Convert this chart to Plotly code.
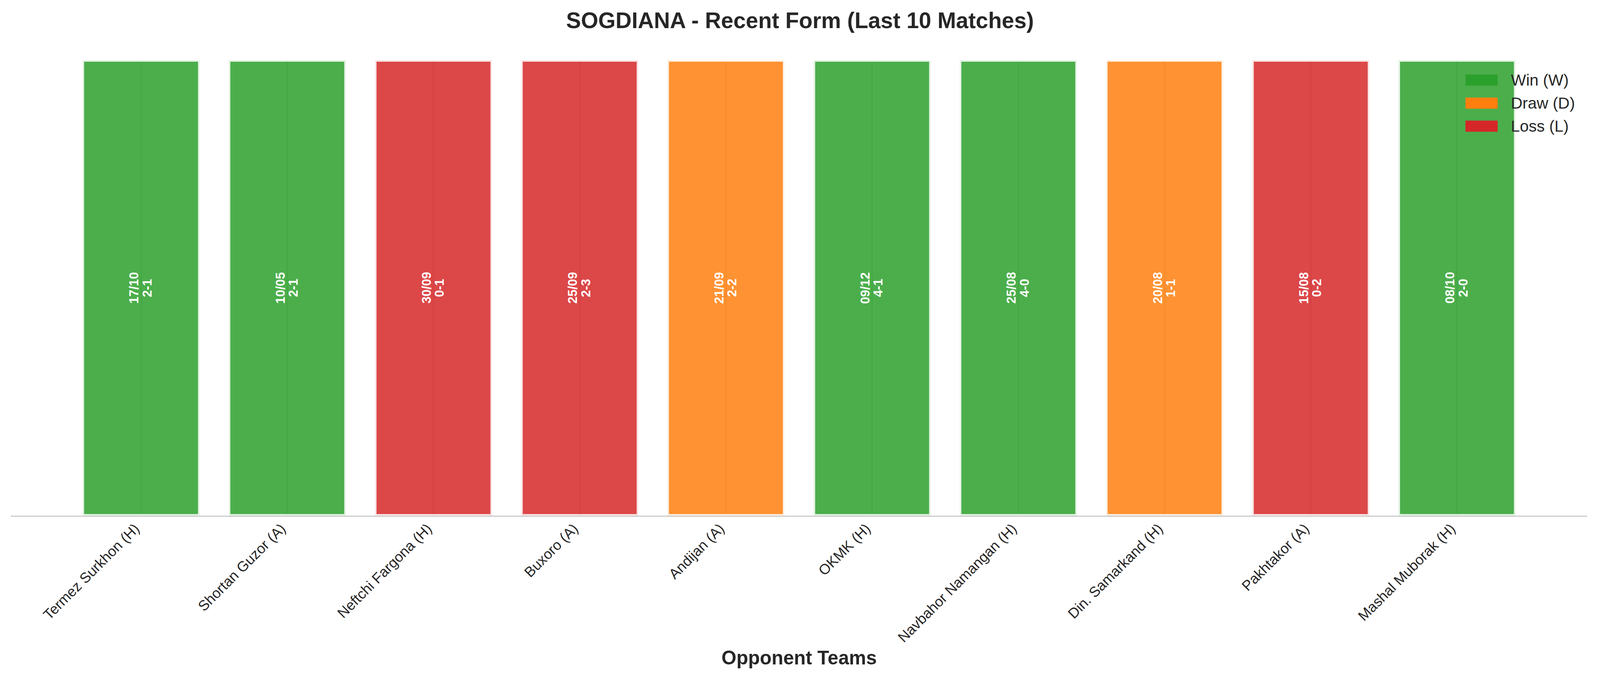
import plotly.graph_objects as go

# recent form data, most recent first
teams = ["Termez Surkhon (H)", "Shortan Guzor (A)", "Neftchi Fargona (H)", "Buxoro (A)",
         "Andijan (A)", "OKMK (H)", "Navbahor Namangan (H)", "Din. Samarkand (H)",
         "Pakhtakor (A)", "Mashal Muborak (H)"]
results = ["W", "W", "L", "L", "D", "W", "W", "D", "L", "W"]
dates = ["17/10", "10/05", "30/09", "25/09", "21/09", "09/12", "25/08", "20/08", "15/08", "08/10"]
scores = ["2-1", "2-1", "0-1", "2-3", "2-2", "4-1", "4-0", "1-1", "0-2", "2-0"]
bar_height = [1] * len(teams)

legend_keys = ["W", "D", "L"]
legend_labels = ["Win (W)", "Draw (D)", "Loss (L)"]

colors = {"W": "44,160,44", "D": "255,127,14", "L": "214,39,40"}

FONT = "Liberation Sans, Arial, sans-serif"

# the page is shot at ~4096 px wide and stretched to 4170, body has 8px margin
S = 4096 / 4170
OFF = 8


def p(v):
    # picture px -> figure px
    return v * S - OFF


def z(v):
    # size in picture px -> figure px
    return v * S


W, H = 4080, 1720
L, R, T, B = p(29), p(4136), p(157), p(1344)


def px_x(x):
    return (p(x) - L) / (R - L)


def px_y(y):
    return (B - p(y)) / (B - T)


fig = go.Figure()
fig.add_trace(go.Bar(
    x=teams, y=bar_height, width=0.8,
    marker=dict(color=["rgba(%s,0.85)" % colors[r] for r in results],
                line=dict(color="rgba(255,255,255,0.85)", width=z(8))),
    showlegend=False, hoverinfo="skip",
))

annotations = []
for t, d, s in zip(teams, dates, scores):
    for txt, shift in ((d, -18), (s, 16)):
        annotations.append(dict(
            x=t, y=0.5, xref="x", yref="y", text=txt, showarrow=False,
            textangle=-90, xshift=z(shift), xanchor="center", yanchor="middle",
            font=dict(family=FONT, size=z(33), color="white", weight="bold"),
        ))

# legend drawn by hand so patches get matplotlib-like size
shapes = []
row_y = [209, 269, 329]
for k, lab, yc in zip(legend_keys, legend_labels, row_y):
    shapes.append(dict(
        type="rect", xref="paper", yref="paper", layer="above",
        x0=px_x(3819), x1=px_x(3903), y0=px_y(yc + 14.5), y1=px_y(yc - 14.5),
        fillcolor="rgb(%s)" % colors[k], line=dict(width=0),
    ))
    annotations.append(dict(
        x=px_x(3935), y=px_y(yc), xref="paper", yref="paper", text=lab,
        showarrow=False, xanchor="left", yanchor="middle",
        font=dict(family=FONT, size=z(41.7), color="#262626"),
    ))

annotations.append(dict(
    x=0.5, y=px_y(1714.5), xref="paper", yref="paper", text="Opponent Teams",
    showarrow=False, xanchor="center", yanchor="middle",
    font=dict(family=FONT, size=z(50), color="#262626", weight="bold"),
))

fig.update_layout(
    width=W, height=H,
    margin=dict(l=L, r=W - R, t=T, b=H - B, autoexpand=False),
    paper_bgcolor="white", plot_bgcolor="white",
    title=dict(text="SOGDIANA - Recent Form (Last 10 Matches)",
               x=0.5, xref="container", y=1 - p(52.5) / H, yref="container",
               xanchor="center", yanchor="middle",
               font=dict(family=FONT, size=z(58), color="#262626", weight="bold")),
    xaxis=dict(type="category", categoryorder="array", categoryarray=teams,
               range=[-0.89, 9.89], tickangle=-45, ticks="",
               tickfont=dict(family=FONT, size=z(37.5), color="#262626"),
               ticklabelshift=-15, ticklabelstandoff=-6,
               showgrid=True, gridcolor="#cccccc", gridwidth=z(3),
               showline=True, linecolor="#cccccc", linewidth=z(3),
               zeroline=False, automargin=False),
    yaxis=dict(range=[0, 1], showticklabels=False, showgrid=False,
               zeroline=False, showline=False, ticks="", automargin=False),
    annotations=annotations, shapes=shapes,
    showlegend=False,
)

fig.write_html("out.html")
